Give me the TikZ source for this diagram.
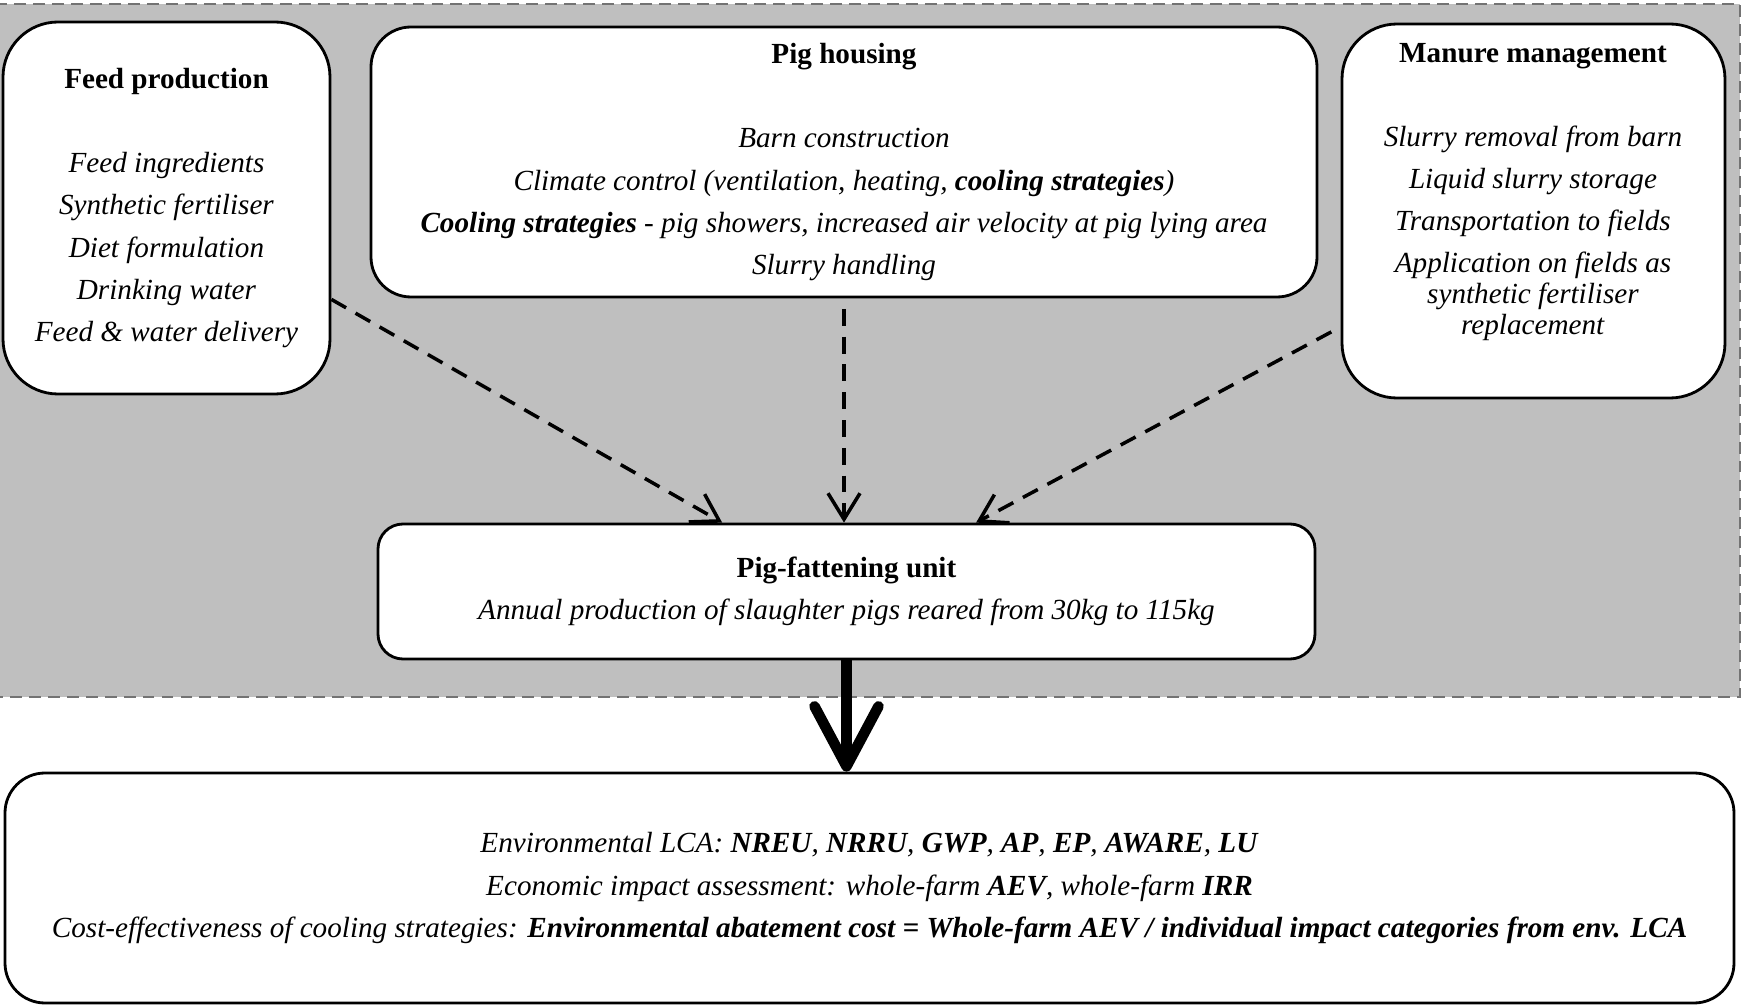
\documentclass[tikz,border=0pt]{standalone}
\usepackage{fontspec}
\setmainfont{Liberation Serif}
\usepackage{xcolor}
\usepackage{tikz}
\usetikzlibrary{calc,arrows.meta}
\definecolor{bggray}{RGB}{191,191,191}
\definecolor{edgegray}{RGB}{115,115,115}

\begin{document}
\begin{tikzpicture}[
  every node/.style={font=\fontsize{8.3}{12}\selectfont, align=center, inner sep=0pt},
  stagebox/.style={draw=black, line width=0.8pt, fill=white},
  dasharrow/.style={line width=1pt, dash pattern=on 4.8pt off 3.1pt, -{Straight Barb[length=2.6mm,width=3.2mm]}},
  bigarrow/.style={line width=3pt, -{Straight Barb[length=6mm,width=6.4mm,round]}}
]
\useasboundingbox (0,0) rectangle (17.43,-10.05);

% Shaded system boundary
\fill[bggray] (-0.05,-0.04) rectangle (17.40,-6.97);
\draw[edgegray, line width=0.6pt, dash pattern=on 3.4pt off 2pt] (-0.05,-0.04) -| (17.40,-6.97) -- (-0.05,-6.97);

% Upstream stages
\node[stagebox, rounded corners=0.55cm, minimum width=3.27cm, minimum height=3.72cm] (feed) at (1.665,-2.08)
  {\textbf{Feed production}\\[12pt]
   \textit{Feed ingredients}\\
   \textit{Synthetic fertiliser}\\
   \textit{Diet formulation}\\
   \textit{Drinking water}\\
   \textit{Feed \& water delivery}};

\node[stagebox, rounded corners=0.4cm, minimum width=9.46cm, minimum height=2.70cm] (housing) at (8.44,-1.62)
  {\textbf{Pig housing}\\[12pt]
   \textit{Barn construction}\\
   \textit{Climate control (ventilation, heating, \textbf{cooling strategies})}\\
   \textit{\textbf{Cooling strategies} - pig showers, increased air velocity at pig lying area}\\
   \textit{Slurry handling}};

\node[stagebox, rounded corners=0.55cm, minimum width=3.83cm, minimum height=3.74cm] (manure) at (15.335,-2.11) {};
\node (manuretxt) at (15.33,-1.92)
  {\textbf{Manure management}\\[12pt]
   \textit{Slurry removal from barn}\\
   \textit{Liquid slurry storage}\\
   \textit{Transportation to fields}\\
   \textit{Application on fields as}\\[-3.2pt]
   \textit{synthetic fertiliser}\\[-3.2pt]
   \textit{replacement}};

% Central unit
\node[stagebox, rounded corners=0.25cm, minimum width=9.37cm, minimum height=1.35cm] (fatten) at (8.465,-5.915)
  {\textbf{Pig-fattening unit}\\
   \textit{Annual production of slaughter pigs reared from 30kg to 115kg}};

% Assessment
\node[stagebox, rounded corners=0.4cm, minimum width=17.29cm, minimum height=2.30cm] (result) at (8.695,-8.88)
  {\textit{Environmental LCA: \textbf{NREU}, \textbf{NRRU}, \textbf{GWP}, \textbf{AP}, \textbf{EP}, \textbf{AWARE}, \textbf{LU}}\\
   \textit{Economic impact assessment: whole-farm \textbf{AEV}, whole-farm \textbf{IRR}}\\
   \textit{Cost-effectiveness of cooling strategies: \textbf{Environmental abatement cost = Whole-farm AEV / individual impact categories from env. LCA}}};

% Flows
\draw[dasharrow] (feed.-29) -- (fatten.151);
\draw[dasharrow, shorten <=3pt] (housing.south) -- (housing.south |- fatten.north);
\draw[dasharrow, shorten <=3pt] (manure.211) -- (fatten.28);
\draw[bigarrow] (fatten.south) -- (fatten.south |- result.north);
\end{tikzpicture}
\end{document}
